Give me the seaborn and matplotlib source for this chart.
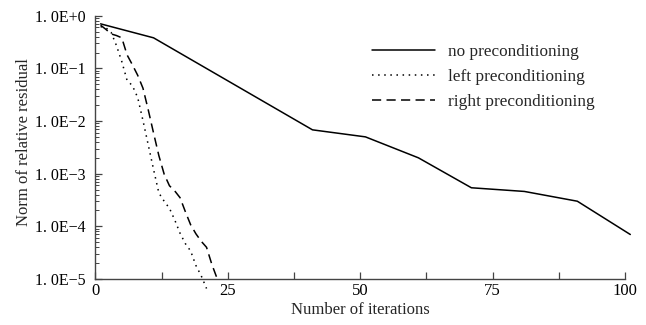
import numpy as np
import pandas as pd
import matplotlib
matplotlib.use("Agg")
import matplotlib.pyplot as plt
import matplotlib.ticker as mticker
import seaborn as sns

# Residual history of the iterative solver
iters_none = [1, 11, 41, 51, 61, 71, 81, 91, 101]
resid_none = [0.70, 0.38, 0.0068, 0.0050, 0.0020, 0.00054, 0.00046, 0.00030, 0.00007]

iters_left = list(range(1, 22))
resid_left = [0.62, 0.59, 0.48, 0.27, 0.135, 0.059, 0.047, 0.028, 0.0102, 0.0035,
              0.0012, 0.00043, 0.00030, 0.00022, 0.000132, 0.000074, 0.000047,
              0.000034, 0.000018, 0.0000115, 0.0000066]

iters_right = list(range(1, 24))
resid_right = [0.66, 0.55, 0.45, 0.42, 0.38, 0.18, 0.117, 0.074, 0.042, 0.0162,
               0.0059, 0.0022, 0.00098, 0.00059, 0.00047, 0.00035, 0.00019,
               0.000107, 0.000072, 0.000052, 0.000040, 0.000019, 0.0000102]

series_names = ["no preconditioning", "left preconditioning", "right preconditioning"]

y_ticks = [1e0, 1e-1, 1e-2, 1e-3, 1e-4, 1e-5]
y_tick_labels = ["1. 0E+0", "1. 0E\u22121", "1. 0E\u22122", "1. 0E\u22123", "1. 0E\u22124", "1. 0E\u22125"]
x_ticks = [0, 25, 50, 75, 100]

sns.set_style("ticks")
plt.rcParams["font.family"] = ["Liberation Serif", "DejaVu Serif"]

fig = plt.figure(figsize=(6.46, 3.25), dpi=100)
ax = fig.add_axes([95.3 / 646, 1 - 279 / 325, (625 - 95.3) / 646, (279 - 15.7) / 325])

df_none = pd.DataFrame({"it": iters_none, "res": resid_none})
df_left = pd.DataFrame({"it": iters_left, "res": resid_left})
df_right = pd.DataFrame({"it": iters_right, "res": resid_right})

sns.lineplot(data=df_none, x="it", y="res", ax=ax, color="black", lw=1.1,
             linestyle="-", label=series_names[0], clip_on=False)
sns.lineplot(data=df_left, x="it", y="res", ax=ax, color="black", lw=1.1,
             linestyle=(0, (1, 3)), label=series_names[1], clip_on=False)
sns.lineplot(data=df_right, x="it", y="res", ax=ax, color="black", lw=1.1,
             linestyle=(0, (6, 3.5)), label=series_names[2], clip_on=False)

ax.set_yscale("log")
ax.set_ylim(1e-5, 1)
ax.set_xlim(0, 100)

ax.set_yticks(y_ticks)
ax.set_yticklabels(y_tick_labels)
ax.yaxis.set_minor_locator(mticker.LogLocator(base=10, subs=np.arange(2, 10), numticks=20))
ax.yaxis.set_minor_formatter(mticker.NullFormatter())

ax.set_xticks(x_ticks)
ax.set_xticklabels([str(v) for v in x_ticks])
ax.xaxis.set_minor_locator(mticker.MultipleLocator(12.5))

ax.tick_params(axis="both", which="major", direction="in", length=5, width=0.9,
               colors="#444444", labelcolor="black", labelsize=12)
ax.tick_params(axis="y", which="major", pad=7, labelsize=11.5)
ax.tick_params(axis="x", which="major", pad=3)
ax.tick_params(axis="both", which="minor", direction="in", length=3, width=0.7,
               colors="#444444")
ax.tick_params(axis="x", which="minor", length=5, width=0.9)

sns.despine(ax=ax)
for side in ("left", "bottom"):
    ax.spines[side].set_color("#444444")
    ax.spines[side].set_linewidth(1.0)

ax.set_xlabel("Number of iterations", fontsize=12, labelpad=2)
ax.set_ylabel("Norm of relative residual", fontsize=12)
ax.yaxis.set_label_coords(-0.12, 0.52)

leg = ax.legend(loc="upper left", bbox_to_anchor=(0.509, 0.92), frameon=False,
                fontsize=12.4, handlelength=3.65, handletextpad=0.78, labelspacing=0.52,
                borderaxespad=0)

fig.savefig("out.png", dpi=100)
